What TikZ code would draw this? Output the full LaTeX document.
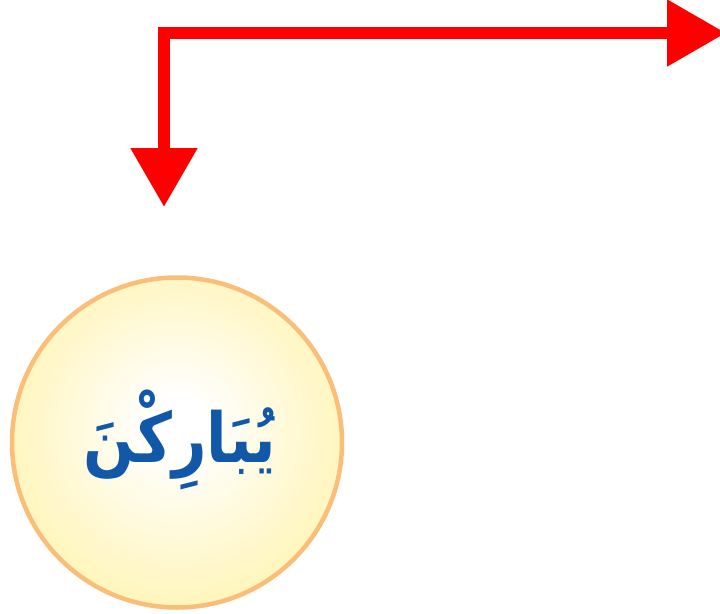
\documentclass[tikz,border=0pt]{standalone}
\usepackage{fontspec}
\usepackage{graphicx}
\usetikzlibrary{arrows.meta}
\TeXXeTstate=1
\newfontfamily\arabicfont[Script=Arabic]{DejaVu Sans}
\definecolor{arrowred}{RGB}{255,0,0}
\definecolor{rimorange}{RGB}{250,190,120}
\definecolor{sunyellow}{RGB}{255,241,150}
\definecolor{sunmid}{RGB}{255,247,200}
\definecolor{wordblue}{RGB}{18,88,168}
\pgfdeclareradialshading{sunshade}{\pgfpoint{0bp}{3bp}}{%
  color(0bp)=(white); color(4bp)=(white); color(22bp)=(sunmid);
  color(40bp)=(sunyellow); color(50bp)=(sunyellow)}
\tikzset{
  flow/.style={draw=arrowred, line width=12pt, line join=miter,
    {Triangle[length=59pt,width=64pt]}-{Triangle[length=59pt,width=64pt]}},
  sun/.style={circle, minimum size=330pt, inner sep=0pt, draw=rimorange,
    line width=4.5pt, shading=sunshade},
  word/.style={font=\arabicfont\bfseries\fontsize{60}{72}\selectfont, text=wordblue}
}
\begin{document}
\begin{tikzpicture}[x=1pt,y=-1pt]
\useasboundingbox (0,0) rectangle (720,613);
\node[sun] (c) at (177,442.5) {};
\node[word] (w) at (180,440) {\scalebox{1}[1.15]{\beginR يُبَارِكْنَ\endR}};
\coordinate (down) at (164,207);
\coordinate (right) at (726,33);
\draw[flow] (down) |- (right);
\end{tikzpicture}
\end{document}
